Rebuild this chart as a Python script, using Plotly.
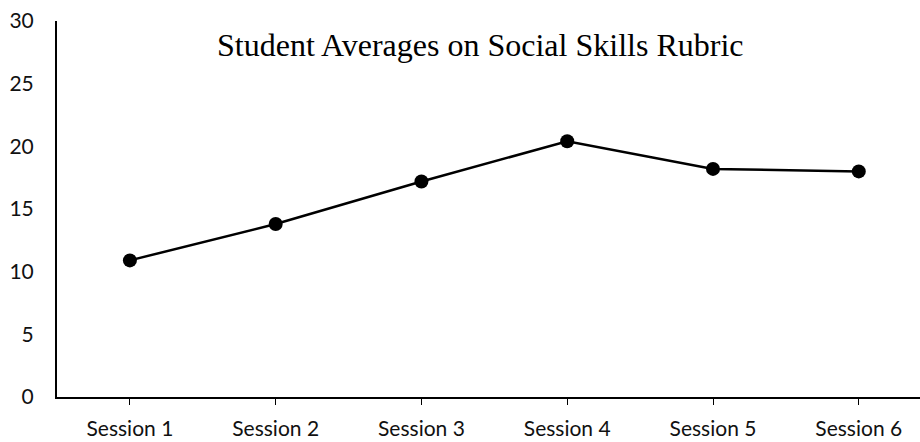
import plotly.graph_objects as go

sessions = ["Session 1", "Session 2", "Session 3", "Session 4", "Session 5", "Session 6"]
averages = [10.9, 13.8, 17.2, 20.4, 18.2, 18.0]
y_ticks = [0, 5, 10, 15, 20, 25, 30]

fig = go.Figure()
fig.add_trace(go.Scatter(
    x=list(range(len(sessions))),
    y=averages,
    mode="lines+markers",
    line=dict(color="black", width=2.5),
    marker=dict(color="black", size=14),
    showlegend=False,
))

fig.update_layout(
    width=920,
    height=442,
    margin=dict(l=57, r=0, t=21, b=45),
    plot_bgcolor="white",
    paper_bgcolor="white",
    font=dict(family="Lato", size=21, color="#111"),
    xaxis=dict(
        range=[-0.5, 5.42],
        tickmode="array",
        tickvals=list(range(len(sessions))),
        ticktext=sessions,
        showline=True,
        linecolor="black",
        linewidth=2,
        ticks="outside",
        ticklen=6,
        tickcolor="black",
        tickwidth=1,
        showgrid=False,
        zeroline=False,
        ticklabelstandoff=6,
    ),
    yaxis=dict(
        range=[0, 30],
        tickmode="array",
        tickvals=y_ticks,
        showline=True,
        linecolor="black",
        linewidth=2,
        ticks="",
        showgrid=False,
        zeroline=False,
        ticklabelstandoff=17,
    ),
    annotations=[dict(
        text="Student Averages on Social Skills Rubric",
        xref="paper", yref="paper",
        x=0.49, y=0.936,
        xanchor="center", yanchor="middle",
        showarrow=False,
        font=dict(family="Liberation Serif", size=32, color="black"),
    )],
)

fig.write_html("out.html")
